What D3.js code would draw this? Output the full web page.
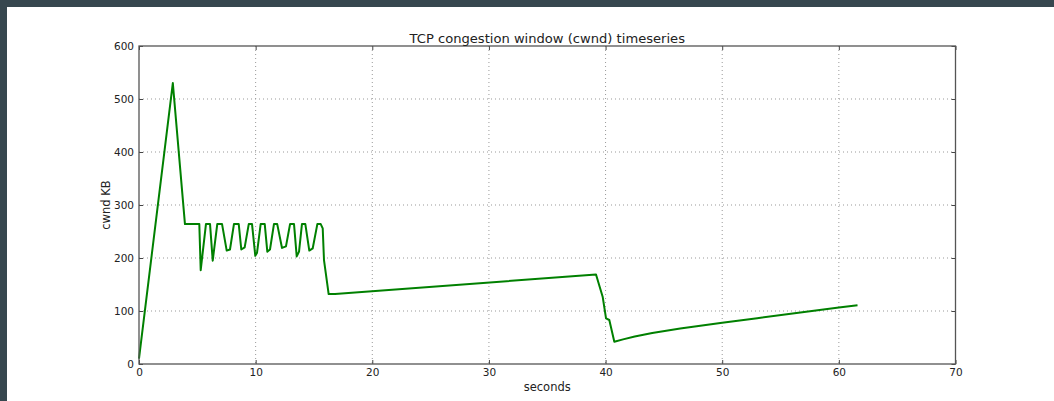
<!DOCTYPE html>
<html>
<head>
<meta charset="utf-8">
<script src="https://cdn.jsdelivr.net/npm/d3@7"></script>
<style>
  html, body { margin: 0; padding: 0; background: #37474f; }
  svg { display: block; }
  text { font-family: "DejaVu Sans", sans-serif; fill: #222; }
</style>
</head>
<body>
<script>
// cwnd samples (seconds, KB)
var times = [0, 2.9, 3.94, 5.17, 5.29, 5.74, 6.09, 6.32, 6.71, 7.12, 7.52, 7.8, 8.14, 8.55, 8.77, 9.06,
  9.41, 9.69, 9.97, 10.12, 10.43, 10.78, 11.0, 11.23, 11.57, 11.85, 12.26, 12.6, 12.95, 13.29, 13.52, 13.72,
  13.97, 14.26, 14.6, 14.89, 15.29, 15.58, 15.75, 15.86, 16.26, 16.8, 39.18, 39.75, 40.04, 40.32, 40.75,
  41.5, 42.5, 44, 46.4, 50, 53, 56.7, 60, 61.6];
var cwnd = [10, 530, 264, 264, 177, 264, 264, 195, 264, 264, 214, 216, 264, 264, 216, 220,
  264, 264, 204, 210, 264, 264, 212, 216, 264, 264, 219, 222, 264, 264, 203, 212,
  264, 264, 214, 218, 264, 264, 256, 196, 132, 132, 169, 127, 86, 83, 42,
  46.5, 52, 58.5, 67, 78, 86.5, 97, 106.5, 111];
var xTicks = [0, 10, 20, 30, 40, 50, 60, 70];
var yTicks = [0, 100, 200, 300, 400, 500, 600];

var W = 1054, H = 401;
var margin = {top: 46, right: 98.5, bottom: 37, left: 139};

var svg = d3.select("body").append("svg")
  .attr("width", W)
  .attr("height", H);

// dark frame round the white page
svg.append("rect").attr("width", W).attr("height", H).attr("fill", "#37474f");
svg.append("rect").attr("x", 7).attr("y", 7).attr("width", W - 7).attr("height", H - 7).attr("fill", "#fff");

var pw = W - margin.left - margin.right,
    ph = H - margin.top - margin.bottom;

var x = d3.scaleLinear().domain([0, 70]).range([0, pw]);
var y = d3.scaleLinear().domain([0, 600]).range([ph, 0]);

var g = svg.append("g").attr("transform", "translate(" + margin.left + "," + margin.top + ")");

// grid
g.selectAll(".vgrid").data(xTicks.slice(1, -1)).enter().append("line")
  .attr("x1", function(d){ return x(d); }).attr("x2", function(d){ return x(d); })
  .attr("y1", 0).attr("y2", ph)
  .attr("stroke", "#999").attr("stroke-width", 1).attr("stroke-dasharray", "1,3");
g.selectAll(".hgrid").data(yTicks.slice(1, -1)).enter().append("line")
  .attr("y1", function(d){ return y(d); }).attr("y2", function(d){ return y(d); })
  .attr("x1", 0).attr("x2", pw)
  .attr("stroke", "#999").attr("stroke-width", 1).attr("stroke-dasharray", "1,3");

// data line
var pts = times.map(function(t, i){ return [t, cwnd[i]]; });
g.append("path")
  .datum(pts)
  .attr("fill", "none")
  .attr("stroke", "#008000")
  .attr("stroke-width", 2)
  .attr("stroke-linejoin", "round")
  .attr("d", d3.line().x(function(d){ return x(d[0]); }).y(function(d){ return y(d[1]); }));

// axes, ticks pointing inwards like matplotlib classic
var xAxis = d3.axisBottom(x).tickValues(xTicks).tickSize(-4).tickPadding(5).tickFormat(d3.format("d"));
var yAxis = d3.axisLeft(y).tickValues(yTicks).tickSize(-4).tickPadding(5).tickFormat(d3.format("d"));
var xTop = d3.axisTop(x).tickValues(xTicks).tickSize(-4).tickFormat("");
var yRight = d3.axisRight(y).tickValues(yTicks).tickSize(-4).tickFormat("");

function style(sel) {
  sel.select(".domain").remove();
  sel.selectAll("line").attr("stroke", "#444");
  sel.selectAll("text").attr("font-size", 10.5).attr("fill", "#222")
    .style("font-family", "'DejaVu Sans', sans-serif");
}
g.append("g").attr("transform", "translate(0," + ph + ")").call(xAxis).call(style);
g.append("g").call(yAxis).call(style);
g.append("g").call(xTop).call(style);
g.append("g").attr("transform", "translate(" + pw + ",0)").call(yRight).call(style);

// frame
g.append("rect").attr("width", pw).attr("height", ph)
  .attr("fill", "none").attr("stroke", "#555").attr("stroke-width", 1.3);

// labels
svg.append("text")
  .attr("x", margin.left + pw / 2).attr("y", 42.5)
  .attr("text-anchor", "middle").attr("font-size", 13.1)
  .text("TCP congestion window (cwnd) timeseries");
svg.append("text")
  .attr("x", margin.left + pw / 2).attr("y", 390.5)
  .attr("text-anchor", "middle").attr("font-size", 11.5)
  .text("seconds");
svg.append("text")
  .attr("transform", "translate(109.5," + (margin.top + ph / 2) + ") rotate(-90)")
  .attr("text-anchor", "middle").attr("font-size", 11.5)
  .text("cwnd KB");
</script>
</body>
</html>
